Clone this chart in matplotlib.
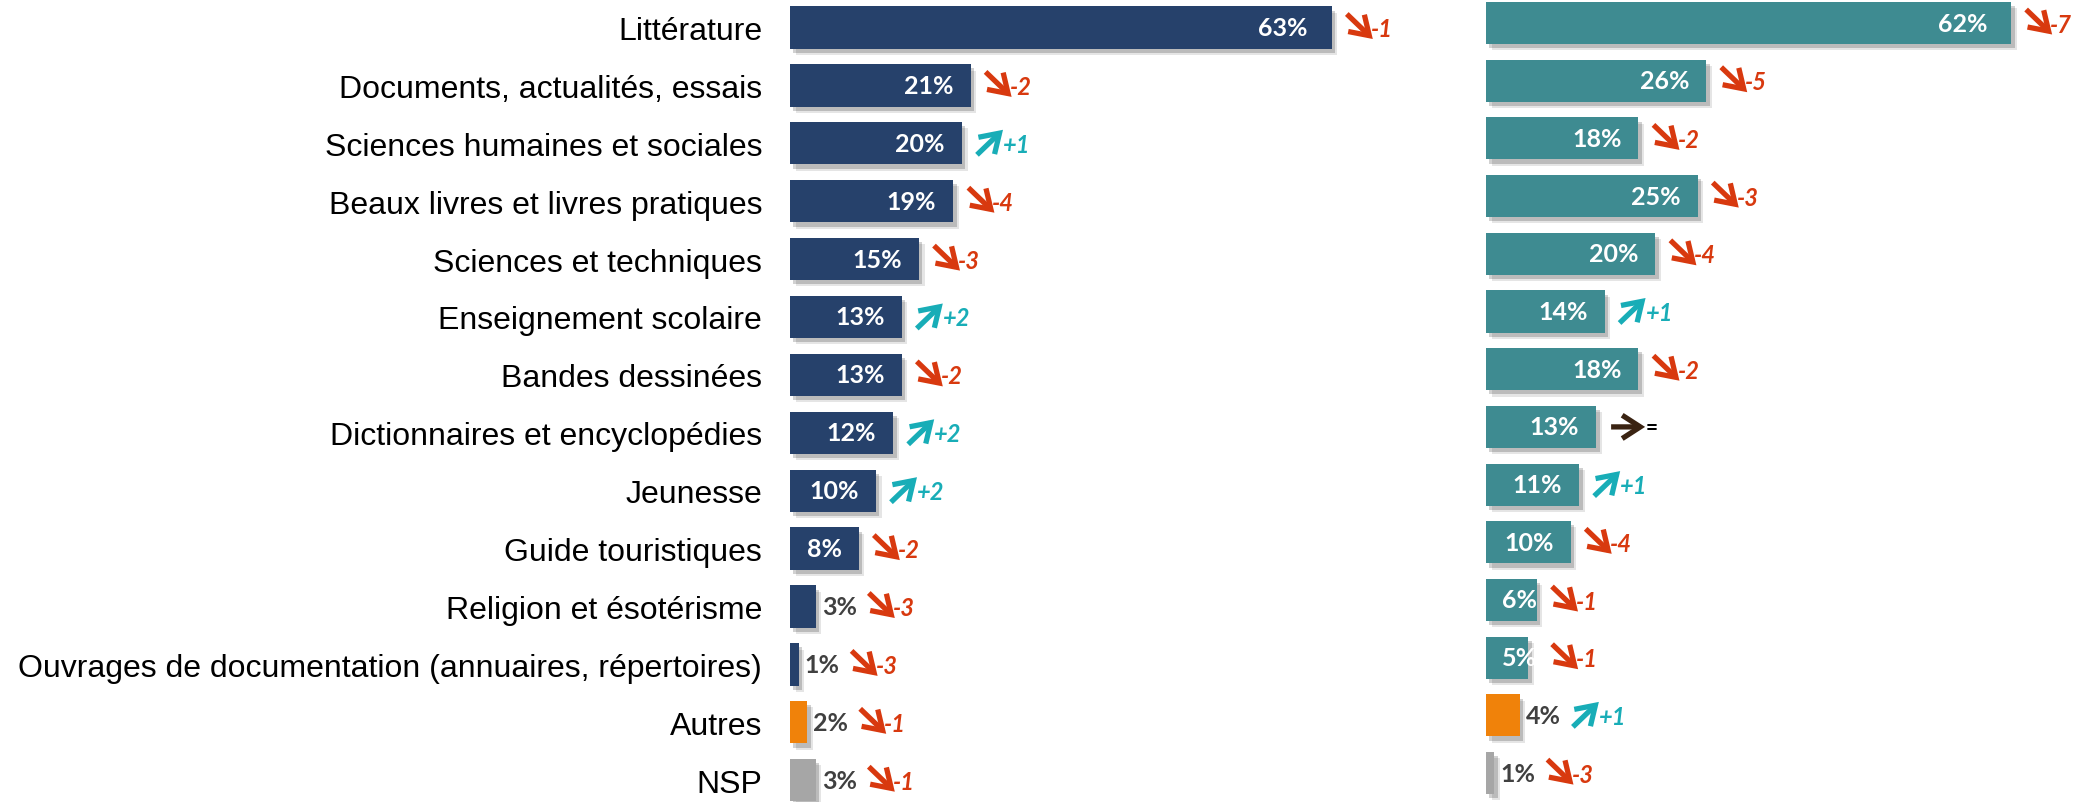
import matplotlib
matplotlib.use("Agg")
import matplotlib.pyplot as plt
import matplotlib.patheffects as pe
from matplotlib.patches import FancyArrowPatch, ArrowStyle
from matplotlib import transforms

# ---------------- data ----------------
categories = [
    "Littérature",
    "Documents, actualités, essais",
    "Sciences humaines et sociales",
    "Beaux livres et livres pratiques",
    "Sciences et techniques",
    "Enseignement scolaire",
    "Bandes dessinées",
    "Dictionnaires et encyclopédies",
    "Jeunesse",
    "Guide touristiques",
    "Religion et ésotérisme",
    "Ouvrages de documentation (annuaires, répertoires)",
    "Autres",
    "NSP",
]
left_values = [63, 21, 20, 19, 15, 13, 13, 12, 10, 8, 3, 1, 2, 3]
left_changes = [-1, -2, 1, -4, -3, 2, -2, 2, 2, -2, -3, -3, -1, -1]
right_values = [62, 26, 18, 25, 20, 14, 18, 13, 11, 10, 6, 5, 4, 1]
right_changes = [-7, -5, -2, -3, -4, 1, -2, 0, 1, -4, -1, -1, 1, -3]

# ---------------- style ----------------
W, H = 2083, 803
NAVY = "#26416B"
TEAL = "#3E8B91"
ORANGE = "#F0820A"
GREY = "#A6A6A6"
RED = "#D8390F"
CYAN = "#18ADB7"
BROWN = "#3A2312"
LABEL_GREY = "#404040"
NUM_FONT = ["Lato", "DejaVu Sans"]

fig = plt.figure(figsize=(W / 100, H / 100), dpi=100)


def make_axes(x0, x1, scale, first_center, spacing):
    ax = fig.add_axes([x0 / W, 0, (x1 - x0) / W, 1])
    ax.set_xlim(0, (x1 - x0) / scale)
    top = -first_center / spacing
    bottom = (H - first_center) / spacing
    ax.set_ylim(bottom, top)
    for s in ax.spines.values():
        s.set_visible(False)
    ax.set_xticks([])
    ax.set_facecolor("none")
    return ax


axL = make_axes(790, 1480, 8.6, 28.5, 57.9)
axR = make_axes(1486, 2083, 8.47, 24.0, 57.7)

n = len(categories)
axL.set_yticks(range(n))
axL.set_yticklabels(categories, fontsize=23, family=["Liberation Sans", "DejaVu Sans"], color="black")
axL.tick_params(axis="y", length=0, pad=20)
axR.set_yticks([])

shadow = [
    pe.SimplePatchShadow(offset=(2.5, -3), shadow_rgbFace="black", alpha=0.18),
    pe.SimplePatchShadow(offset=(4, -4.5), shadow_rgbFace="black", alpha=0.10),
    pe.Normal(),
]


def draw_panel(ax, values, main_color):
    colors = [main_color] * (n - 2) + [ORANGE, GREY]
    bars = ax.barh(range(n), values, height=0.73, color=colors, zorder=2)
    for b in bars:
        b.set_path_effects(shadow)
    labels = []
    for i, v in enumerate(values):
        inside = v >= 5 and i < n - 2
        if inside and v >= 8:
            pad = -24 if v >= 50 else -17
            tr = transforms.offset_copy(ax.transData, fig=fig, x=pad, y=0, units="dots")
            t = ax.text(v, i, f"{v}%", transform=tr, ha="right", va="center",
                        fontsize=18, fontweight="bold", family=NUM_FONT, color="white", zorder=3)
        elif inside:
            tr = transforms.offset_copy(ax.transData, fig=fig, x=16, y=0, units="dots")
            t = ax.text(0, i, f"{v}%", transform=tr, ha="left", va="center",
                        fontsize=18, fontweight="bold", family=NUM_FONT, color="white", zorder=3)
        else:
            tr = transforms.offset_copy(ax.transData, fig=fig, x=6, y=0, units="dots")
            t = ax.text(v, i, f"{v}%", transform=tr, ha="left", va="center",
                        fontsize=18, fontweight="bold", family=NUM_FONT, color=LABEL_GREY, zorder=3)
        labels.append((t, inside))
    return labels


labL = draw_panel(axL, left_values, NAVY)
labR = draw_panel(axR, right_values, TEAL)

fig.canvas.draw()
renderer = fig.canvas.get_renderer()


def add_arrows(ax, values, changes, labels):
    for i, (v, c) in enumerate(zip(values, changes)):
        t, inside = labels[i]
        bar_end = ax.transData.transform((v, i))[0]
        yc = ax.transData.transform((0, i))[1]
        if inside:
            x = max(bar_end, t.get_window_extent(renderer).x1) + 15
        else:
            x = t.get_window_extent(renderer).x1 + 12
        ya = yc + 1
        if c == 0:
            p0, p1 = (x, yc), (x + 34, yc)
            col = BROWN
            txt, tx = "=", x + 35
        elif c > 0:
            p0, p1 = (x, ya - 12.5), (x + 26, ya + 12.5)
            col = CYAN
            txt, tx = f"+{c}", x + 26
        else:
            p0, p1 = (x, ya + 12.5), (x + 26, ya - 12.5)
            col = RED
            txt, tx = f"-{abs(c)}", x + 24
        arr = FancyArrowPatch(
            (p0[0] / W, p0[1] / H), (p1[0] / W, p1[1] / H),
            transform=fig.transFigure,
            arrowstyle=ArrowStyle("->", head_length=0.65, head_width=0.42),
            mutation_scale=20, lw=3.8, color=col, shrinkA=0, shrinkB=0,
            capstyle="butt", joinstyle="miter",
        )
        fig.add_artist(arr)
        if c == 0:
            fig.text(tx / W, yc / H, txt, ha="left", va="center", fontsize=15,
                     fontweight="bold", family=NUM_FONT, color="black")
        else:
            fig.text(tx / W, (yc - 1) / H, txt, ha="left", va="center", fontsize=17,
                     fontweight="bold", fontstyle="italic", family=NUM_FONT, color=col)


add_arrows(axL, left_values, left_changes, labL)
add_arrows(axR, right_values, right_changes, labR)

fig.savefig("out.png", dpi=100, facecolor="white")
